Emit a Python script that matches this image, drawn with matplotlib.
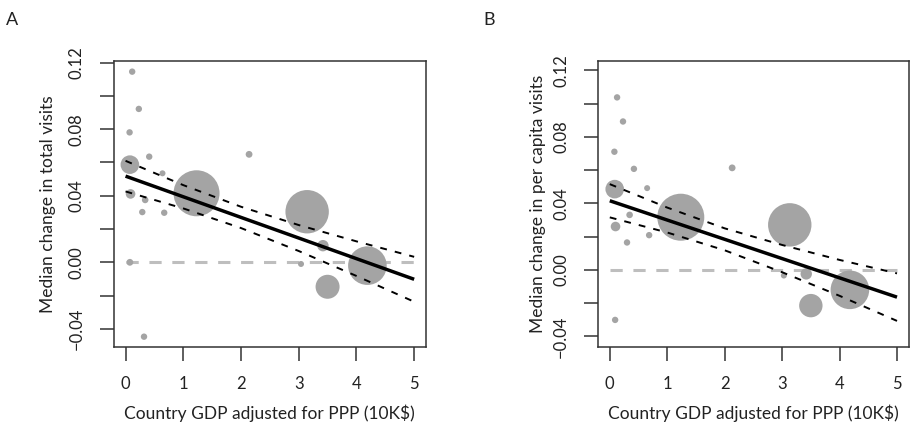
import matplotlib
matplotlib.use("Agg")
import matplotlib.pyplot as plt
import numpy as np

plt.rcParams['font.family'] = ['Lato', 'DejaVu Sans']

# ---------------- data ----------------
# Panel A: median change in total visits
a_gdp = [0.115, 0.23, 0.07, 0.41, 2.14, 0.075, 0.64, 1.23, 0.087, 0.34,
         0.29, 0.67, 0.075, 0.32, 3.146, 3.42, 3.04, 4.19, 3.50]
a_change = [0.1146, 0.0922, 0.0781, 0.0635, 0.0649, 0.0587, 0.0535, 0.0415,
            0.0411, 0.0375, 0.0302, 0.0298, 0.0, -0.0447, 0.0304, 0.0100,
            -0.0010, -0.0020, -0.0147]
a_radius = [3.2, 3.2, 3.2, 3.2, 3.4, 9.3, 3.0, 23.0, 4.8, 3.3,
            3.2, 3.2, 3.4, 3.2, 21.7, 5.7, 3.0, 19.3, 12.0]

# Panel B: median change in per capita visits
b_gdp = [0.127, 0.23, 0.08, 0.42, 2.13, 0.086, 0.65, 1.236, 0.10, 0.345,
         0.30, 0.685, 0.093, 3.133, 3.42, 3.03, 4.18, 3.50]
b_change = [0.1038, 0.0893, 0.0711, 0.0608, 0.0614, 0.0486, 0.0492, 0.0317,
            0.0261, 0.0331, 0.0165, 0.0209, -0.0301, 0.0271, -0.0024,
            -0.0034, -0.0120, -0.0215]
b_radius = [3.2, 3.2, 3.2, 3.2, 3.4, 9.3, 3.0, 23.5, 4.8, 3.3,
            3.2, 3.2, 3.2, 21.7, 5.7, 3.0, 19.3, 11.7]

# regression fit and confidence band, read at these GDP values
fit_x = [0, 1, 2, 3, 4, 5]
a_fit = [0.0518, 0.0394, 0.0270, 0.0146, 0.0022, -0.0102]
a_upper = [0.0610, 0.0464, 0.0334, 0.0224, 0.0126, 0.0033]
a_lower = [0.0426, 0.0324, 0.0206, 0.0068, -0.0082, -0.0237]
b_fit = [0.0416, 0.0300, 0.0184, 0.0068, -0.0048, -0.0164]
b_upper = [0.0516, 0.0375, 0.0250, 0.0150, 0.0060, -0.0021]
b_lower = [0.0316, 0.0225, 0.0118, -0.0014, -0.0156, -0.0307]

x_ticks = [0, 1, 2, 3, 4, 5]
y_ticks = [-0.04, -0.02, 0.0, 0.02, 0.04, 0.06, 0.08, 0.10, 0.12]
y_tick_labels = ['\u22120.04', '', '0.00', '', '0.04', '', '0.08', '', '0.12']
x_label = 'Country GDP adjusted for PPP (10K$)'
a_ylabel = 'Median change in total visits'
b_ylabel = 'Median change in per capita visits'

# ---------------- figure ----------------
W, H = 913, 429
fig = plt.figure(figsize=(W / 100, H / 100), dpi=100)

def box(l, r, t, b):
    return [l / W, 1 - b / H, (r - l) / W, (b - t) / H]

axA = fig.add_axes(box(114, 425.7, 61, 346.5))
axB = fig.add_axes(box(598.3, 908.5, 61, 346.5))

point_color = '#a4a4a4'
zero_color = '#bebebe'

def draw(ax, gx, gy, rad, fit, up, lo, ylim, ylabel, ylab_x):
    s = [(2 * r * 0.72) ** 2 for r in rad]
    ax.scatter(gx, gy, s=s, c=point_color, edgecolors='none', zorder=2)
    ax.plot([fit_x[0], fit_x[-1]], [0, 0], color=zero_color, lw=2.2,
            dashes=(4, 3.5), zorder=1)
    ax.plot(fit_x, fit, color='black', lw=2.5, zorder=3,
            solid_capstyle='butt')
    ax.plot(fit_x, up, color='black', lw=1.4, dashes=(3.5, 4.2), zorder=3)
    ax.plot(fit_x, lo, color='black', lw=1.4, dashes=(3.5, 4.2), zorder=3)
    ax.set_xlim(-0.2, 5.2)
    ax.set_ylim(*ylim)
    ax.set_xticks(x_ticks)
    ax.set_xticklabels([str(v) for v in x_ticks])
    ax.set_yticks(y_ticks)
    ax.set_yticklabels(y_tick_labels, rotation=90, va='center')
    ax.tick_params(axis='both', length=10, width=1.1, color='#333333',
                   labelsize=12, pad=11, labelcolor='#222222')
    for sp in ax.spines.values():
        sp.set_linewidth(1.1)
        sp.set_color('#333333')
    ax.set_xlabel(x_label, fontsize=12.5, color='#222222')
    ax.xaxis.label.set_va('center')
    ax.xaxis.set_label_coords(0.5, -0.233)
    ax.set_ylabel(ylabel, fontsize=12.5, color='#222222')
    ax.yaxis.label.set_rotation_mode('default')
    ax.yaxis.label.set_va('center')
    ax.yaxis.set_label_coords(ylab_x, 0.5)

draw(axA, a_gdp, a_change, a_radius, a_fit, a_upper, a_lower,
     (-0.0506, 0.121), a_ylabel, (47.5 - 114) / 311.7)
draw(axB, b_gdp, b_change, b_radius, b_fit, b_upper, b_lower,
     (-0.0461, 0.1257), b_ylabel, (538.3 - 598.3) / 310.2)

fig.text(12 / W, 1 - 20 / H, 'A', fontsize=13, ha='center', va='center',
         color='#222222')
fig.text(489 / W, 1 - 20 / H, 'B', fontsize=13, ha='center', va='center',
         color='#222222')

fig.savefig('out.png', dpi=100)
